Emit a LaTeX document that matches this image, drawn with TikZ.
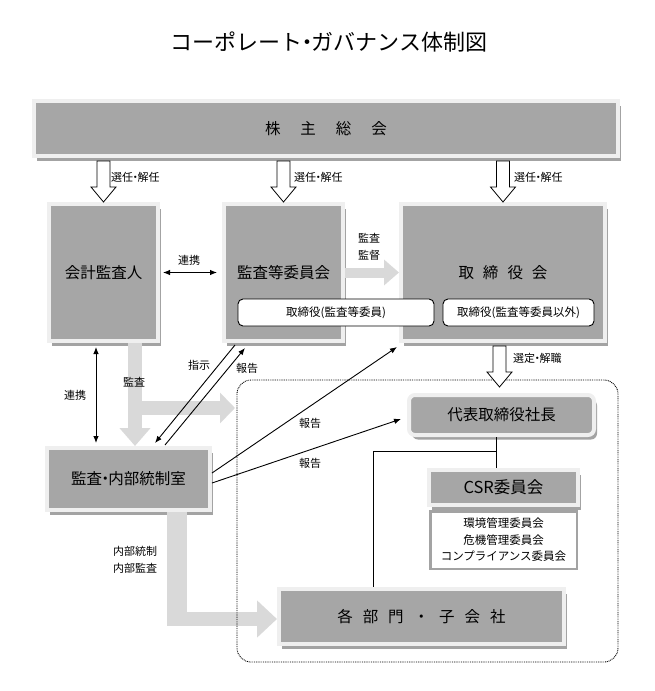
\documentclass[tikz,border=0pt]{standalone}
\usepackage{fontspec}
\setmainfont{Noto Sans CJK JP}
\usepackage{xcolor}
\definecolor{boxGray}{HTML}{A6A6A6}
\definecolor{frameGray}{HTML}{EFEFEF}
\definecolor{shadeGray}{HTML}{A3A3A3}
\definecolor{arrowGray}{HTML}{D9D9D9}
\usepackage{tikz}
\usetikzlibrary{calc, arrows.meta, shadows}
\tikzset{
    mainBox/.style={fill=boxGray, draw=frameGray, line width=4pt, inner sep=0pt,
        drop shadow={shadow xshift=3pt, shadow yshift=-4.5pt, fill=shadeGray, opacity=1},
        font=\fontsize{15.5}{18}\selectfont},
    subBox/.style={fill=white, draw=black, line width=0.9pt, rounded corners=5pt,
        inner sep=0pt, font=\fontsize{11.5}{13}\selectfont},
    listBox/.style={fill=white, draw=shadeGray, line width=2.5pt, inner sep=0pt,
        align=center, font=\fontsize{11.5}{16.5}\selectfont},
    lbl/.style={inner sep=0pt, font=\fontsize{11}{17}\selectfont},
    hollowArr/.style={fill=white, draw=black, line width=0.8pt, line join=miter},
    grayArr/.style={draw=arrowGray, line width=14pt},
    thinArr/.style={draw=black, line width=0.9pt},
    treeLine/.style={draw=black, line width=0.9pt},
    >={Latex[length=7pt,width=5.5pt]}
}
% narrow middle dot
\newcommand{\nkg}{\kern-.3em・\kern-.3em}
% white block arrow pointing down: shaft top, tip
\newcommand{\hollowDown}[2]{%
  \draw[hollowArr] ($(#1)+(-6.5,3)$) -- ($(#2)+(-6.5,-15)$) -- ($(#2)+(-12.5,-15)$)
    -- (#2) -- ($(#2)+(12.5,-15)$) -- ($(#2)+(6.5,-15)$) -- ($(#1)+(6.5,3)$) -- cycle;}

\begin{document}
\begin{tikzpicture}[x=1pt, y=-1pt]
  \useasboundingbox (0,0) rectangle (654,691);

  % title
  \node[font=\fontsize{22}{25}\selectfont] (title) at (329,42) {コーポレート\nkg ガバナンス体制図};

  % boxes
  \node[mainBox, minimum width=584pt, minimum height=55pt] (kabu) at (326,128.5)
    {株\hspace{20pt}主\hspace{20pt}総\hspace{20pt}会};
  \node[mainBox, minimum width=109pt, minimum height=137pt] (kaikei) at (103.5,272.5) {会計監査人};
  \node[mainBox, minimum width=119pt, minimum height=137pt] (kansa) at (283.5,272.5) {監査等委員会};
  \node[mainBox, minimum width=204pt, minimum height=137pt] (torikai) at (503,272.5)
    {取\hspace{9pt}締\hspace{9pt}役\hspace{9pt}会};
  \node[mainBox, minimum width=163pt, minimum height=62pt] (naibu) at (128.5,479) {監査\nkg 内部統制室};
  \node[mainBox, rounded corners=6pt, minimum width=185pt, minimum height=40pt] (daihyo) at (501.5,415) {代表取締役社長};
  \node[mainBox, minimum width=149pt, minimum height=35pt, font=\fontsize{16.5}{19}\selectfont] (csr) at (503.5,487.5) {CSR委員会};
  \node[listBox, minimum width=146.5pt, minimum height=57.5pt] (csrList) at (503.5,540)
    {環境管理委員会\\危機管理委員会\\コンプライアンス委員会};
  \node[mainBox, minimum width=285pt, minimum height=55pt] (kakubu) at (421.5,616.5)
    {各\hspace{10pt}部\hspace{10pt}門\hspace{10pt}・\hspace{10pt}子\hspace{10pt}会\hspace{10pt}社};

  % directors inside the boards
  \node[subBox, minimum width=196pt, minimum height=27pt] (sub1) at (336,312.5) {取締役(監査等委員)};
  \node[subBox, minimum width=151pt, minimum height=27pt] (sub2) at (518.5,312.5) {取締役(監査等委員以外)};

  % grey block arrows
  \draw[grayArr, line width=10pt, -{Triangle[length=15pt 0 0, width=25pt 0 0]}] (kansa.east) -- (torikai.west);
  \draw[grayArr, -{Triangle[length=18pt 0 0, width=30pt 0 0]}] ([xshift=31.5pt]kaikei.south) -- ([xshift=6.5pt]naibu.north);
  \coordinate (auditBr) at (128,408);
  \coordinate (auditTip) at (235,408);
  \draw[grayArr, -{Triangle[length=15pt 0 0, width=30pt 0 0]}] (auditBr) -- (auditTip);
  \coordinate (ctrlBend) at (177,626);
  \coordinate (ctrlStart) at (167,619);
  \draw[grayArr, line width=20pt] ([xshift=48.5pt]naibu.south) -- (ctrlBend);
  \draw[grayArr, -{Triangle[length=20pt 0 0, width=36pt 0 0]}] (ctrlStart) -- (kakubu.west |- ctrlStart);

  % executive area
  \draw[line width=0.9pt, dash pattern=on 0.9pt off 0.9pt, rounded corners=14pt] (237,380) rectangle (618,662);

  % election arrows
  \foreach \t in {kaikei,kansa,torikai}{
    \hollowDown{kabu.south -| \t.north}{\t.north}
  }
  \coordinate (selTip) at ($(daihyo.north)+(-2,-6)$);
  \hollowDown{torikai.south -| selTip}{selTip}

  % thin arrows
  \draw[thinArr, <->] ([xshift=3pt]kaikei.east) -- ([xshift=-5pt]kansa.west);
  \draw[thinArr, <->] ([xshift=-7.5pt,yshift=-4pt]kaikei.south) -- ([xshift=-32.5pt,yshift=3pt]naibu.north);
  \draw[thinArr, ->] ([xshift=-48.5pt,yshift=-2pt]kansa.south) -- ([xshift=26.5pt,yshift=3pt]naibu.north);
  \draw[thinArr, ->] ([xshift=36.5pt,yshift=1pt]naibu.north) -- ([xshift=-38.5pt,yshift=-5pt]kansa.south);
  \draw[thinArr, ->] ([yshift=6pt]naibu.east) -- ([xshift=-2pt,yshift=-4pt]torikai.south west);
  \draw[thinArr, ->] ([yshift=-4pt]naibu.east) -- ([xshift=-6pt,yshift=-4pt]daihyo.west);

  % organisation lines
  \coordinate (branch) at (496,451);
  \draw[treeLine] (branch |- daihyo.south) -- (branch |- csr.north);
  \draw[treeLine] (branch) -| ([xshift=-48.5pt]kakubu.north);

  % labels
  \node[lbl, anchor=west] (elect1) at (111,177) {選任\nkg 解任};
  \node[lbl, anchor=west] (elect2) at (294,177) {選任\nkg 解任};
  \node[lbl, anchor=west] (elect3) at (514,177) {選任\nkg 解任};
  \node[lbl] (renkeiH) at (189,260) {連携};
  \node[lbl, align=center] (kansaLbl) at (369,247) {監査\\監督};
  \node[lbl] (renkeiV) at (75,395) {連携};
  \node[lbl] (auditLbl) at (134,382) {監査};
  \node[lbl] (shijiLbl) at (199,365) {指示};
  \node[lbl] (report1) at (247,368) {報告};
  \node[lbl] (report2) at (310,423) {報告};
  \node[lbl] (report3) at (310,463) {報告};
  \node[lbl, anchor=west] (senteiLbl) at (513,358) {選定\nkg 解職};
  \node[lbl, align=center] (ctrlLbl) at (135,560) {内部統制\\内部監査};
\end{tikzpicture}
\end{document}
